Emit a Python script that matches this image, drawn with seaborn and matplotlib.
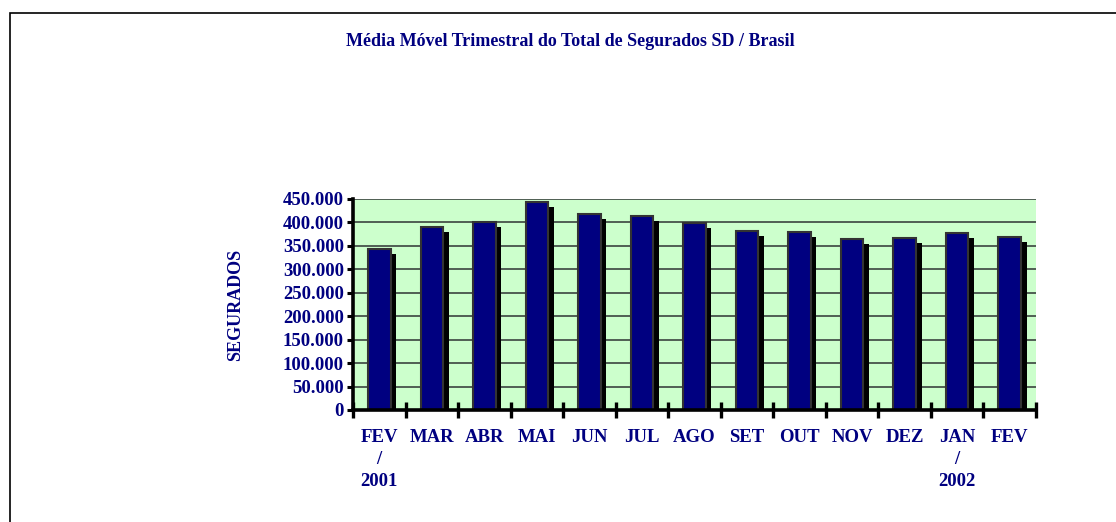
import numpy as np
import matplotlib
matplotlib.use("Agg")
import matplotlib.pyplot as plt
import matplotlib.patheffects as pe
from matplotlib.patches import Rectangle
from matplotlib.ticker import FuncFormatter, FixedLocator
import seaborn as sns

# Dados: média móvel trimestral do total de segurados
meses = ['FEV\n/\n2001', 'MAR', 'ABR', 'MAI', 'JUN', 'JUL', 'AGO', 'SET',
         'OUT', 'NOV', 'DEZ', 'JAN\n/\n2002', 'FEV']
segurados = [343000, 391000, 400000, 443000, 417000, 413000, 398000, 382000,
             380000, 365000, 366000, 377000, 368000]
y_ticks = np.arange(0, 450001, 50000)

# Estilo
sns.set_style("white")
plt.rcParams['font.family'] = ['Liberation Serif', 'DejaVu Serif']
plt.rcParams['font.weight'] = 'bold'

azul = '#000080'
verde = '#CCFFCC'

fig = plt.figure(figsize=(11.16, 5.22), dpi=100)
ax = fig.add_axes([353 / 1116, 1 - 410 / 522, 683 / 1116, 211 / 522])
ax.set_facecolor(verde)

sns.barplot(x=meses, y=segurados, color=azul, width=0.43, saturation=1,
            edgecolor='#333333', linewidth=1.5, ax=ax)

# sombra das barras (efeito 3D)
for p in ax.patches:
    p.set_path_effects([pe.SimplePatchShadow(offset=(4.0, -3.6),
                                             shadow_rgbFace='black', alpha=1),
                        pe.Normal()])

ax.set_xlim(-0.5, len(meses) - 0.5)
ax.set_ylim(0, 450000)
ax.set_yticks(y_ticks)
ax.yaxis.set_major_formatter(FuncFormatter(lambda v, _: f"{int(v):,}".replace(',', '.')))

# grade
ax.set_axisbelow(True)
ax.yaxis.grid(True, color='#45524a', linewidth=1.3)

# eixos
for s in ['top', 'right']:
    ax.spines[s].set_visible(False)
for s in ['left', 'bottom']:
    ax.spines[s].set_color('black')
    ax.spines[s].set_linewidth(2.6)

ax.xaxis.set_minor_locator(FixedLocator(np.arange(-0.5, len(meses), 1.0)))
ax.tick_params(axis='x', which='major', length=0, pad=14, labelsize=13.5,
               labelcolor=azul)
ax.tick_params(axis='x', which='minor', direction='inout', length=11,
               width=2.4, color='black', bottom=True)
ax.tick_params(axis='y', direction='out', length=4.5, width=2.2,
               color='black', left=True, pad=2, labelsize=13.5, labelcolor=azul)
for lbl in ax.get_xticklabels():
    lbl.set_fontweight('bold')
    lbl.set_multialignment('center')
    lbl.set_verticalalignment('top')
    lbl.set_linespacing(1.35)
for lbl in ax.get_yticklabels():
    lbl.set_fontweight('bold')

ax.set_xlabel('')
ax.set_ylabel('SEGURADOS', fontsize=13, fontweight='bold', color=azul,
              labelpad=28)

fig.text(570 / 1116, 1 - 41 / 522,
         'Média Móvel Trimestral do Total de Segurados SD / Brasil',
         ha='center', va='center', fontsize=13, fontweight='bold', color=azul)

# moldura externa
fig.add_artist(Rectangle((10 / 1116, -0.1), 1.2, (522 - 13) / 522 + 0.1,
                         transform=fig.transFigure, fill=False,
                         edgecolor='black', linewidth=1.2))

fig.savefig('out.png', dpi=100)
